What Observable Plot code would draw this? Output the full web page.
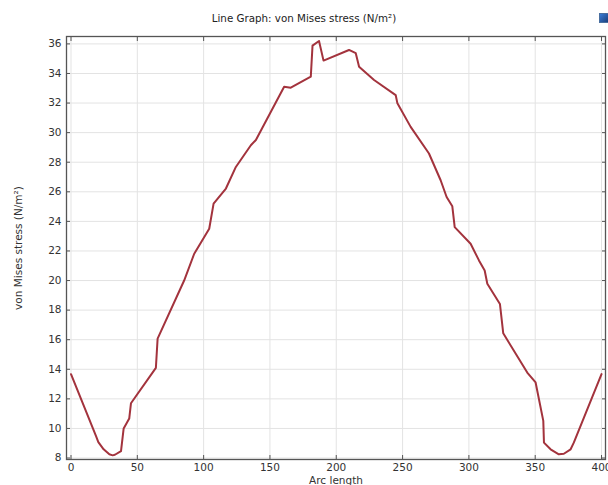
<!DOCTYPE html>
<html>
<head>
<meta charset="utf-8">
<script src="https://cdn.jsdelivr.net/npm/d3@7"></script>
<script src="https://cdn.jsdelivr.net/npm/@observablehq/plot@0.6"></script>
<style>
  html, body { margin: 0; padding: 0; background: #fff; }
  #wrap { position: relative; width: 608px; height: 485px; overflow: hidden; }
  #title { position: absolute; left: 0; width: 608px; top: 12px; text-align: center;
           font-family: "DejaVu Sans", sans-serif; font-size: 10.3px; color: #222; }
  #icon { position: absolute; left: 599px; top: 13px; width: 10px; height: 10px;
          border: 1px solid #4a6fa0; background: linear-gradient(135deg, #3a7bd5, #1c3f7a); box-sizing: border-box; }
</style>
</head>
<body>
<div id="wrap">
  <div id="title">Line Graph: von Mises stress (N/m²)</div>
  <div id="icon"></div>
  <div id="chart"></div>
</div>
<script>
const arcLength = [0, 18.8, 20.6, 24.6, 28.9, 31.4, 33.1, 37.7, 39.7, 43.9, 45.2, 64.0, 65.3, 85.3, 92.9, 104.2, 107.5, 116.8, 124.3, 135.6, 139.4, 160.7, 165.7, 180.8, 182.1, 187.0, 190.4, 209.6, 214.7, 217.2, 228.5, 244.8, 246.1, 256.1, 269.9, 278.7, 283.2, 287.5, 289.3, 301.3, 307.6, 311.9, 313.9, 323.4, 325.9, 344.0, 350.3, 356.1, 356.6, 361.6, 367.8, 371.6, 376.7, 379.1, 400];
const stress = [13.67, 9.49, 9.08, 8.59, 8.25, 8.18, 8.22, 8.47, 10.0, 10.67, 11.7, 14.1, 16.07, 20.0, 21.81, 23.5, 25.2, 26.22, 27.68, 29.15, 29.5, 33.1, 33.04, 33.78, 35.88, 36.2, 34.87, 35.59, 35.37, 34.46, 33.56, 32.54, 31.98, 30.39, 28.59, 26.78, 25.65, 25.02, 23.61, 22.49, 21.36, 20.68, 19.78, 18.42, 16.43, 13.78, 13.11, 10.51, 9.04, 8.59, 8.25, 8.29, 8.59, 9.04, 13.67];
const xTicks = [0, 50, 100, 150, 200, 250, 300, 350, 400];
const yTicks = [8, 10, 12, 14, 16, 18, 20, 22, 24, 26, 28, 30, 32, 34, 36];
const xLabel = "Arc length";
const yLabel = "von Mises stress (N/m²)";

const data = arcLength.map((x, i) => ({x, y: stress[i]}));
const noLabel = () => "";

const chart = Plot.plot({
  width: 608,
  height: 485,
  marginLeft: 66,
  marginRight: 3,
  marginTop: 36,
  marginBottom: 26,
  style: {fontFamily: "DejaVu Sans, sans-serif", fontSize: "10.5px", color: "#333", background: "#fff"},
  x: {domain: [-3.4, 403], label: xLabel, labelArrow: false},
  y: {domain: [7.9, 36.5], label: yLabel, labelArrow: false},
  marks: [
    Plot.gridX(xTicks, {stroke: "#e3e3e3", strokeOpacity: 1}),
    Plot.gridY(yTicks, {stroke: "#e3e3e3", strokeOpacity: 1}),
    Plot.axisX(xTicks, {anchor: "bottom", tickSize: -4, tickPadding: 8, stroke: "#555", label: xLabel, labelArrow: false, labelAnchor: "center", labelOffset: 24}),
    Plot.axisX(xTicks, {anchor: "top", tickSize: -4, stroke: "#555", tickFormat: noLabel, label: null}),
    Plot.axisY(yTicks, {anchor: "left", tickSize: -4, tickPadding: 9, stroke: "#555", label: yLabel, labelArrow: false, labelAnchor: "center", labelOffset: 52}),
    Plot.axisY(yTicks, {anchor: "right", tickSize: -4, stroke: "#555", tickFormat: noLabel, label: null}),
    Plot.frame({stroke: "#555", strokeWidth: 1.3}),
    Plot.line(data, {x: "x", y: "y", stroke: "#a3333d", strokeWidth: 2})
  ]
});
document.getElementById("chart").appendChild(chart);
</script>
</body>
</html>
